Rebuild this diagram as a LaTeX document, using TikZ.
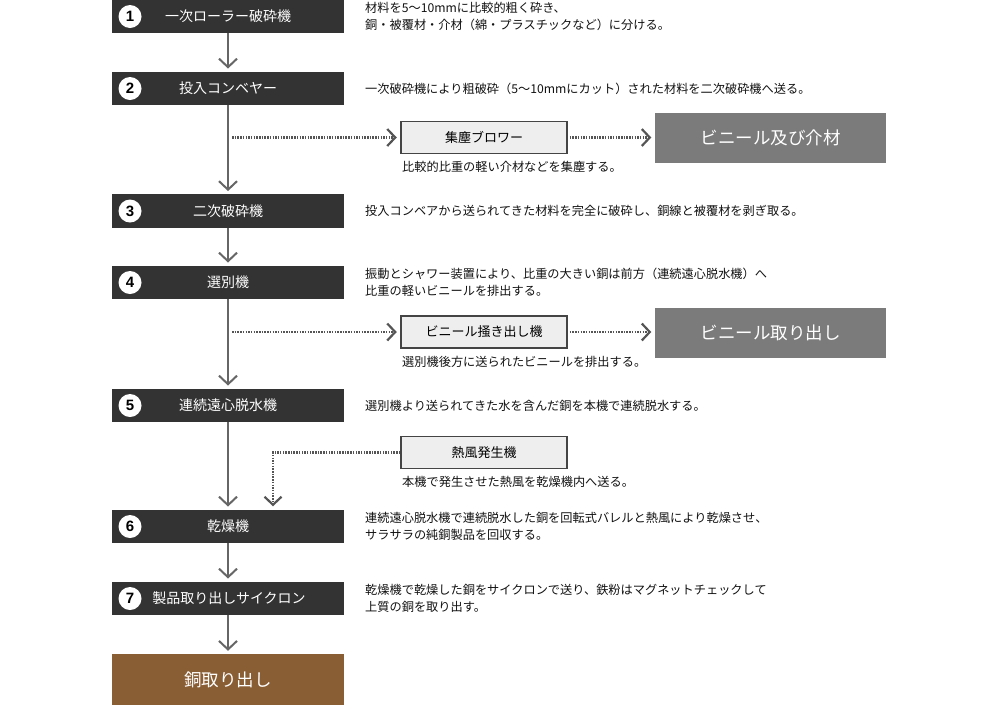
\documentclass[tikz,border=0pt]{standalone}
\usepackage{fontspec}
\setmainfont{Noto Sans CJK JP}
\newfontfamily\numfont{Liberation Sans}
\usetikzlibrary{arrows.meta}
\definecolor{darkbox}{HTML}{333333}
\definecolor{linegray}{HTML}{666666}
\definecolor{dotgray}{HTML}{555555}
\definecolor{lightfill}{HTML}{EEEEEE}
\definecolor{lightborder}{HTML}{444444}
\definecolor{outgray}{HTML}{7B7B7B}
\definecolor{copper}{HTML}{8A5E35}
\definecolor{desctext}{HTML}{111111}
\begin{document}
\begin{tikzpicture}[x=1pt,y=-1pt,
  stepbox/.style={fill=darkbox, minimum width=232pt, minimum height=33.5pt, inner sep=0, text=white, font=\fontsize{14}{16}\selectfont},
  numcirc/.style={circle, fill=white, minimum size=23pt, inner sep=0, text=black, font=\numfont\bfseries\fontsize{15}{17}\selectfont},
  desc/.style={anchor=west, align=left, inner sep=0, text=desctext, font=\fontsize{12.2}{16.5}\selectfont},
  capt/.style={anchor=north west, inner sep=0, text=desctext, font=\fontsize{12.2}{16.5}\selectfont},
  machbox/.style={draw=lightborder, line width=1.5pt, fill=lightfill, minimum width=166pt, minimum height=32pt, inner sep=0, text=black, font=\fontsize{13}{15}\selectfont},
  outbox/.style={fill=outgray, minimum width=231pt, minimum height=50pt, inner sep=0, text=white, font=\fontsize{17.5}{20}\selectfont},
  finalbox/.style={fill=copper, minimum width=232pt, minimum height=51pt, inner sep=0, text=white, font=\fontsize{17.5}{20}\selectfont},
  mainline/.style={draw=linegray, line width=2pt, -{Straight Barb[length=8.5pt,width=18pt,line width=2pt]}, shorten >=3pt},
  dotline/.style={draw=dotgray, line width=2.2pt, dash pattern=on 1.5pt off 1.2pt, -{Straight Barb[length=8pt,width=17pt,line width=2.2pt]}, shorten >=3.5pt}
]
\useasboundingbox (0,0) rectangle (1000,705);

% main steps
\node[stepbox] (s1) at (228,16.5) {一次ローラー破砕機};
\node[stepbox] (s2) at (228,88.5) {投入コンベヤー};
\node[stepbox] (s3) at (228,211) {二次破砕機};
\node[stepbox] (s4) at (228,282.5) {選別機};
\node[stepbox] (s5) at (228,405.5) {連続遠心脱水機};
\node[stepbox] (s6) at (228,526.5) {乾燥機};
\node[stepbox] (s7) at (228,598.5) {\hspace*{2pt}製品取り出しサイクロン};
\node[finalbox] (fin) at (228,679.5) {銅取り出し};

% number circles
\node[numcirc] (n1) at (130,16.5) {1};
\node[numcirc] (n2) at (130,88.5) {2};
\node[numcirc] (n3) at (130,211) {3};
\node[numcirc] (n4) at (130,282.5) {4};
\node[numcirc] (n5) at (130,405.5) {5};
\node[numcirc] (n6) at (130,526.5) {6};
\node[numcirc] (n7) at (130,598.5) {7};

% descriptions
\node[desc] (d1) at (365,16.5) {材料を5〜10mmに比較的粗く砕き、\\銅・被覆材・介材（綿・プラスチックなど）に分ける。};
\node[desc] (d2) at (365,88.5) {一次破砕機により粗破砕（5〜10mmにカット）された材料を二次破砕機へ送る。};
\node[desc] (d3) at (365,211) {投入コンベアから送られてきた材料を完全に破砕し、銅線と被覆材を剥ぎ取る。};
\node[desc] (d4) at (365,282.5) {振動とシャワー装置により、比重の大きい銅は前方（連続遠心脱水機）へ\\比重の軽いビニールを排出する。};
\node[desc] (d5) at (365,405.5) {選別機より送られてきた水を含んだ銅を本機で連続脱水する。};
\node[desc] (d6) at (365,526.5) {連続遠心脱水機で連続脱水した銅を回転式バレルと熱風により乾燥させ、\\サラサラの純銅製品を回収する。};
\node[desc] (d7) at (365,598.5) {乾燥機で乾燥した銅をサイクロンで送り、鉄粉はマグネットチェックして\\上質の銅を取り出す。};

% side machines
\node[machbox] (blower) at (484,137.5) {集塵ブロワー};
\node[capt] (c1) at (402,161) {比較的比重の軽い介材などを集塵する。};
\node[outbox] (o1) at (770.5,138) {ビニール及び介材};

\node[machbox] (sweep) at (484,332) {ビニール掻き出し機};
\node[capt] (c2) at (402,356.5) {選別機後方に送られたビニールを排出する。};
\node[outbox] (o2) at (770.5,332.5) {ビニール取り出し};

\node[machbox] (hot) at (484,452.5) {熱風発生機};
\node[capt] (c3) at (402,476.5) {本機で発生させた熱風を乾燥機内へ送る。};

% main flow
\draw[mainline] (s1.south) -- (s2.north);
\draw[mainline] (s2.south) -- (s3.north);
\draw[mainline] (s3.south) -- (s4.north);
\draw[mainline] (s4.south) -- (s5.north);
\draw[mainline] (s5.south) -- (s6.north);
\draw[mainline] (s6.south) -- (s7.north);
\draw[mainline] (s7.south) -- (fin.north);

% branches
\coordinate (j1) at (232,137.5);
\coordinate (j2) at (232,332);
\coordinate (j3) at (273,509.75);
\draw[dotline] (j1) -- (blower.west);
\draw[dotline, shorten <=2pt] (blower.east) -- (o1.west |- blower.east);
\draw[dotline] (j2) -- (sweep.west);
\draw[dotline, shorten <=2pt] (sweep.east) -- (o2.west |- sweep.east);
\draw[dotline] (hot.west) -| (j3);
\end{tikzpicture}
\end{document}
